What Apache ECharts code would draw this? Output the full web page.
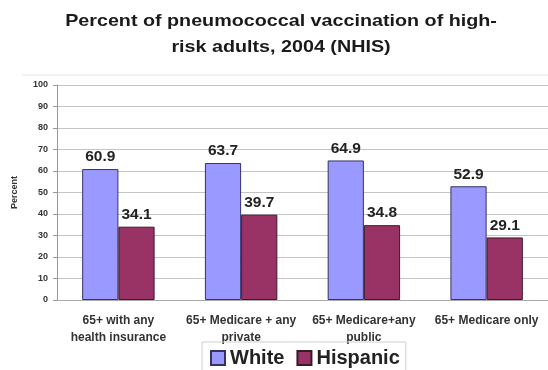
<!DOCTYPE html>
<html>
<head>
<meta charset="utf-8">
<script src="https://cdn.jsdelivr.net/npm/echarts@6/dist/echarts.min.js"></script>
<style>
  html, body { margin: 0; padding: 0; background: #fff; }
  #chart { width: 548px; height: 370px; }
</style>
</head>
<body>
<div id="chart"></div>
<script>
// Coverage groups along the horizontal axis
const categories = [
  '65+ with any\nhealth insurance',
  '65+ Medicare + any\nprivate',
  '65+ Medicare+any\npublic',
  '65+ Medicare only'
];
// Vaccination percentages per group
const whiteValues = [60.9, 63.7, 64.9, 52.9];
const hispanicValues = [34.1, 39.7, 34.8, 29.1];
const seriesNames = ['White', 'Hispanic'];
const yTicks = { min: 0, max: 100, step: 10 };
const titleText = 'Percent of pneumococcal vaccination of high-\nrisk adults, 2004 (NHIS)';

const FONT = '"Liberation Sans", Arial, sans-serif';

const chart = echarts.init(document.getElementById('chart'), null, { renderer: 'canvas' });

const labelStyle = {
  show: true,
  position: 'top',
  distance: 4,
  fontFamily: FONT,
  fontWeight: 'bold',
  fontSize: 15.5,
  color: '#222'
};

chart.setOption({
  animation: false,
  backgroundColor: '#fff',
  graphic: [
    {
      // wide bold heading, stretched horizontally
      type: 'text',
      x: 281,
      y: 8,
      scaleX: 1.16,
      style: {
        text: titleText,
        align: 'center',
        verticalAlign: 'top',
        font: 'bold 17px ' + FONT,
        lineHeight: 26,
        fill: '#1a1a1a'
      }
    },
    {
      type: 'line',
      shape: { x1: 22, y1: 75, x2: 548, y2: 75 },
      style: { stroke: '#e4e4e4', lineWidth: 1 }
    }
  ],
  legend: {
    data: seriesNames,
    icon: 'rect',
    left: 202,
    top: 342,
    itemWidth: 14,
    itemHeight: 14,
    itemGap: 12,
    padding: [6, 6, 6, 8],
    borderColor: '#cfcfcf',
    borderWidth: 1,
    textStyle: {
      fontFamily: FONT,
      fontWeight: 'bold',
      fontSize: 20,
      color: '#222'
    }
  },
  grid: {
    left: 57,
    right: 0,
    top: 85,
    bottom: 70,
    containLabel: false
  },
  xAxis: {
    type: 'category',
    data: categories,
    axisLine: { show: true, lineStyle: { color: '#aaa', width: 1 } },
    axisTick: { show: false },
    axisLabel: {
      interval: 0,
      margin: 12,
      fontFamily: FONT,
      fontWeight: 'bold',
      fontSize: 12,
      lineHeight: 17,
      color: '#333'
    }
  },
  yAxis: {
    type: 'value',
    min: yTicks.min,
    max: yTicks.max,
    interval: yTicks.step,
    name: 'Percent',
    nameLocation: 'middle',
    nameGap: 38,
    nameRotate: 90,
    nameTextStyle: {
      fontFamily: FONT,
      fontSize: 9,
      fontWeight: 'bold',
      color: '#333'
    },
    axisLine: { show: true, lineStyle: { color: '#999', width: 1 } },
    axisTick: { show: true, length: 4, lineStyle: { color: '#999' } },
    axisLabel: {
      margin: 9,
      fontFamily: FONT,
      fontWeight: 'bold',
      fontSize: 9,
      color: '#333'
    },
    splitLine: { show: true, lineStyle: { color: '#c4c4c4', width: 1 } }
  },
  series: [
    {
      name: seriesNames[0],
      type: 'bar',
      data: whiteValues,
      barGap: '0%',
      barCategoryGap: '41%',
      itemStyle: { color: '#9999FF', borderColor: '#333366', borderWidth: 1 },
      label: labelStyle
    },
    {
      name: seriesNames[1],
      type: 'bar',
      data: hispanicValues,
      itemStyle: { color: '#993366', borderColor: '#3a1a2a', borderWidth: 1 },
      label: labelStyle
    }
  ]
});
</script>
</body>
</html>
